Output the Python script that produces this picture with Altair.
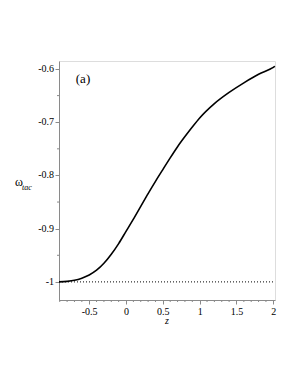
import altair as alt
import pandas as pd

# curve omega_tac(z)
z_vals = [-0.91, -0.8, -0.7, -0.6, -0.5, -0.4, -0.3, -0.2, -0.1, 0.0, 0.1, 0.2,
          0.3, 0.4, 0.5, 0.6, 0.7, 0.8, 0.9, 1.0, 1.2, 1.4, 1.6, 1.8, 2.0, 2.023]
w_vals = [-1.0, -0.999, -0.997, -0.993, -0.987, -0.978, -0.965, -0.948, -0.928, -0.905,
          -0.882, -0.858, -0.834, -0.811, -0.789, -0.767, -0.746, -0.727, -0.709, -0.692,
          -0.665, -0.644, -0.626, -0.610, -0.597, -0.595]

# reference line w = -1
ref_z = [-0.91, 2.0]
ref_w = [-1.0, -1.0]

x_major = [-0.5, 0, 0.5, 1, 1.5, 2]
x_minor = [-0.9, -0.8, -0.7, -0.6, -0.4, -0.3, -0.2, -0.1, 0.1, 0.2, 0.3, 0.4,
           0.6, 0.7, 0.8, 0.9, 1.1, 1.2, 1.3, 1.4, 1.6, 1.7, 1.8, 1.9]
y_major = [-1, -0.9, -0.8, -0.7, -0.6]
y_labels = ["-1", "-0.9", "-0.8", "-0.7", "-0.6"]
y_minor = [-0.95, -0.85, -0.75, -0.65]

x_domain = [-0.91, 2.023]
y_domain = [-1.034, -0.585]

df = pd.DataFrame({"z": z_vals, "w": w_vals})
df_ref = pd.DataFrame({"z": ref_z, "w": ref_w})
df_xm = pd.DataFrame({"z": x_minor})
df_ym = pd.DataFrame({"w": y_minor})
df_yl = pd.DataFrame({"w": y_major, "t": y_labels})

FONT = "Liberation Serif"
GRAY = "#8a8a8a"


def x_axis():
    return alt.Axis(
        values=x_major, title=None, grid=False, orient="bottom",
        labelExpr="'' + datum.value",
        labelOverlap=False, labelFont=FONT, labelFontSize=10, labelColor="black",
        labelPadding=2, domainColor=GRAY, tickColor=GRAY, tickSize=4,
    )


def y_axis():
    return alt.Axis(
        values=y_major, title=None, grid=False, orient="left", labels=False,
        domainColor=GRAY, tickColor=GRAY, tickSize=4,
    )


xs = alt.Scale(domain=x_domain, nice=False, zero=False)
ys = alt.Scale(domain=y_domain, nice=False, zero=False)

ref = alt.Chart(df_ref).mark_line(color="black", strokeWidth=1, strokeDash=[1, 2]).encode(
    x=alt.X("z:Q", scale=xs, axis=x_axis()),
    y=alt.Y("w:Q", scale=ys, axis=y_axis()),
)

curve = alt.Chart(df).mark_line(color="black", strokeWidth=1.6, interpolate="monotone").encode(
    x=alt.X("z:Q", scale=xs, axis=x_axis()),
    y=alt.Y("w:Q", scale=ys, axis=y_axis()),
)

xminor = alt.Chart(df_xm).mark_rule(color=GRAY, strokeWidth=1).encode(
    x=alt.X("z:Q", scale=xs, axis=x_axis()),
    y=alt.value(239), y2=alt.value(241),
)

yminor = alt.Chart(df_ym).mark_rule(color=GRAY, strokeWidth=1).encode(
    y=alt.Y("w:Q", scale=ys, axis=y_axis()),
    x=alt.value(-2), x2=alt.value(0),
)

ylabels = alt.Chart(df_yl).mark_text(font=FONT, fontSize=10, color="black",
                                     align="right", baseline="middle").encode(
    y=alt.Y("w:Q", scale=ys, axis=y_axis()),
    x=alt.value(-5),
    text="t:N",
)

label_a = alt.Chart().mark_text(font=FONT, fontSize=13, color="black").encode(
    x=alt.value(24), y=alt.value(18), text=alt.value("(a)")
)
omega = alt.Chart().mark_text(font=FONT, fontSize=12, color="black").encode(
    x=alt.value(-40), y=alt.value(121), text=alt.value("ω")
)
sub = alt.Chart().mark_text(font=FONT, fontSize=8, fontStyle="italic", color="black").encode(
    x=alt.value(-32), y=alt.value(127), text=alt.value("tac")
)
xtitle = alt.Chart().mark_text(font=FONT, fontSize=10, fontStyle="italic", color="black").encode(
    x=alt.value(108), y=alt.value(260), text=alt.value("z")
)

chart = alt.layer(ref, curve, xminor, yminor, ylabels, label_a, omega, sub, xtitle).properties(
    width=216, height=239,
    autosize=alt.AutoSizeParams(type="none"),
    padding={"left": 51, "top": 53, "right": 15, "bottom": 70},
).configure_view(stroke=GRAY, strokeWidth=1).configure(background="white")

chart.save("out.html", embed_options={"renderer": "svg", "actions": False})
